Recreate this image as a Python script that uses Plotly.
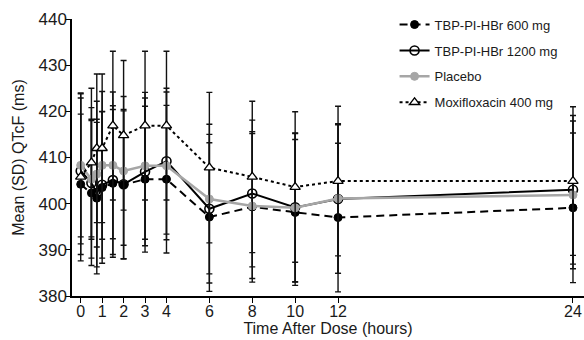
import plotly.graph_objects as go

# ---- data ----
times = [0, 0.5, 0.75, 1, 1.5, 2, 3, 4, 6, 8, 10, 12, 24]

mean_600 = [404.2, 402.3, 401.2, 403.5, 404.4, 404.1, 405.3, 405.3, 397.1, 399.3, 398.1, 397.0, 399.1]
sd_600 = [15.2, 15.7, 16.4, 16.4, 16.0, 16.0, 15.8, 16.0, 16.1, 16.3, 15.8, 16.1, 16.2]

mean_1200 = [407.1, 404.5, 402.3, 404.1, 405.1, 404.2, 406.9, 409.2, 398.9, 402.2, 399.2, 401.0, 403.0]
sd_1200 = [15.8, 16.3, 16.0, 15.9, 16.1, 16.2, 16.0, 15.8, 16.1, 15.9, 16.1, 16.1, 16.1]

mean_pbo = [408.3, 405.3, 406.4, 408.3, 408.3, 407.1, 408.2, 408.2, 401.0, 399.5, 399.1, 401.1, 401.9]
sd_pbo = [15.5, 13.0, 15.8, 16.0, 15.9, 16.1, 15.9, 16.0, 16.2, 15.7, 16.1, 16.2, 16.0]

mean_moxi = [405.8, 408.9, 412.0, 412.0, 416.9, 414.8, 416.9, 416.9, 407.8, 405.8, 403.6, 404.9, 404.9]
sd_moxi = [18.2, 16.1, 16.1, 16.1, 16.1, 16.2, 16.1, 16.1, 16.3, 16.4, 16.3, 16.2, 16.1]

tick_hours = [0, 1, 2, 3, 4, 6, 8, 10, 12, 24]
y_ticks = [380, 390, 400, 410, 420, 430, 440]

# the original axis is compressed after 12 h
BREAK_AT = 12
COMPRESS = 0.913


def axis_pos(t):
    return t if t <= BREAK_AT else BREAK_AT + (t - BREAK_AT) * COMPRESS


xpos = [axis_pos(t) for t in times]
tickpos = [axis_pos(t) for t in tick_hours]

FONT = "Arial, Liberation Sans, sans-serif"
EB = "#111111"

fig = go.Figure()

series = [
    ("TBP-PI-HBr 600 mg", mean_600, sd_600,
     dict(color="black", width=2, dash="8px,5px"),
     dict(symbol="circle", size=8, color="black", line=dict(color="black", width=1))),
    ("TBP-PI-HBr 1200 mg", mean_1200, sd_1200,
     dict(color="black", width=2),
     dict(symbol="circle-open", size=9, color="black", line=dict(color="black", width=1.6))),
    ("Placebo", mean_pbo, sd_pbo,
     dict(color="#a6a6a6", width=2.5),
     dict(symbol="circle", size=8, color="#a6a6a6", line=dict(color="#a6a6a6", width=1))),
    ("Moxifloxacin 400 mg", mean_moxi, sd_moxi,
     dict(color="black", width=2, dash="dot"),
     dict(symbol="triangle-up", size=9, color="white", line=dict(color="black", width=1.3))),
]

for name, m, sd, ln, mk in series:
    fig.add_trace(go.Scatter(
        x=xpos, y=m, name=name, mode="lines+markers",
        line=ln, marker=mk,
        error_y=dict(type="data", array=sd, visible=True, color=EB, thickness=1.4, width=3),
        legendgroup=name,
    ))

fig.update_layout(
    width=584, height=340,
    margin=dict(l=72, r=0, t=19, b=44, autoexpand=False),
    paper_bgcolor="white", plot_bgcolor="white",
    font=dict(family=FONT, size=16, color="#1a1a1a"),
    hovermode=False,
    showlegend=True,
    legend=dict(
        x=0.63, y=1.034, xanchor="left", yanchor="top",
        font=dict(family=FONT, size=13, color="#1a1a1a"),
        bgcolor="rgba(0,0,0,0)", tracegroupgap=6,
        itemwidth=30,
    ),
    xaxis=dict(
        range=[-0.406, 23.47], automargin=False,
        tickvals=tickpos, ticktext=[str(t) for t in tick_hours],
        ticks="outside", ticklen=5, tickwidth=1.2, tickcolor="black",
        showline=True, linecolor="black", linewidth=1.5,
        showgrid=False, zeroline=False,
        ticklabelstandoff=-5,
        title=dict(text="Time After Dose (hours)", standoff=0,
                   font=dict(family=FONT, size=16)),
        tickfont=dict(family=FONT, size=16),
    ),
    yaxis=dict(
        range=[380, 440], automargin=False,
        tickvals=y_ticks,
        ticks="outside", ticklen=5, tickwidth=1.2, tickcolor="black",
        showline=True, linecolor="black", linewidth=1.5,
        showgrid=False, zeroline=False,
        ticklabelstandoff=-5,
        title=dict(text="Mean (SD) QTcF (ms)", standoff=10,
                   font=dict(family=FONT, size=16)),
        tickfont=dict(family=FONT, size=17),
    ),
)

# remove the browser's default 8px page margin so the 584x340 figure fills the window
fig.write_html(
    "out.html",
    config={"displayModeBar": False},
    post_script="document.body.style.margin='0';document.body.style.overflow='hidden';",
)
